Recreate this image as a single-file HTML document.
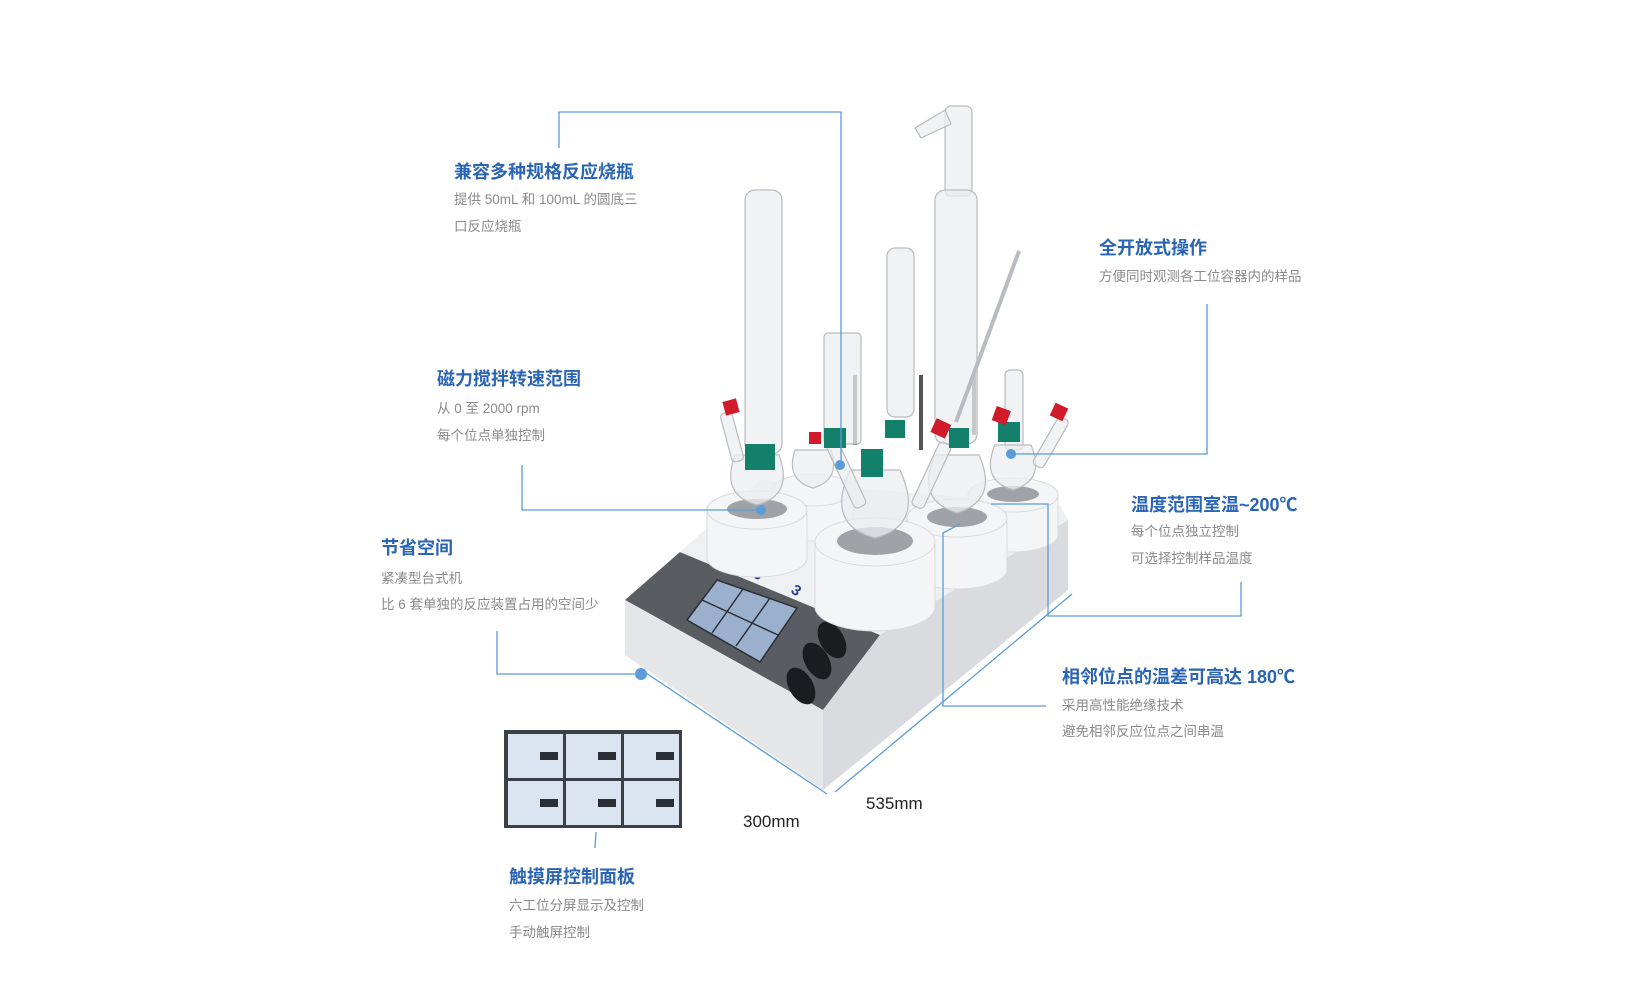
<!DOCTYPE html>
<html><head><meta charset="utf-8"><style>
html,body{margin:0;padding:0;background:#fff;width:1648px;height:998px;overflow:hidden}
svg{display:block}
.t{font-family:"Liberation Sans","Noto Sans CJK SC",sans-serif;font-weight:bold;font-size:18px;fill:#2a64b4}
.b{font-family:"Liberation Sans","Noto Sans CJK SC",sans-serif;font-size:13.5px;fill:#8a8a8a}
.d{font-family:"Liberation Sans","Noto Sans CJK SC",sans-serif;font-size:17px;fill:#222}
.ln{fill:none;stroke:#5b9bd9;stroke-width:1.3}
.g{fill:rgba(235,238,240,0.75);stroke:#b8bcc0;stroke-width:1.2}
</style></head><body>
<svg width="1648" height="998" viewBox="0 0 1648 998" xmlns="http://www.w3.org/2000/svg">
<polygon points="625,600 680,552 880,635 823,710" fill="#595c61"/>
<polygon points="625,600 625,655 823,790 823,710" fill="#e4e6e8"/>
<polygon points="823,710 880,635 1068,520 1068,590 823,790" fill="#d9dbde"/>
<polygon points="680,552 880,635 1068,520 1060,505 760,480" fill="#eef0f2"/>
<!-- screen -->
<polygon points="687,620 717,580 797,608 760,662" fill="#9bb0cc" stroke="#2b3036" stroke-width="1.5"/>
<g stroke="#2b3036" stroke-width="1.5">
<line x1="702" y1="600" x2="778" y2="635"/>
<line x1="712" y1="633" x2="743" y2="589"/><line x1="736" y1="646" x2="770" y2="598"/>
</g>
<g fill="#1a1c1f">
<ellipse cx="832" cy="640" rx="12" ry="20" transform="rotate(-30 832 640)"/>
<ellipse cx="817" cy="661" rx="12" ry="20" transform="rotate(-30 817 661)"/>
<ellipse cx="801" cy="686" rx="12" ry="20" transform="rotate(-30 801 686)"/>
</g>
<text x="752" y="576" font-family="Liberation Sans" font-weight="bold" font-size="15" fill="#2a3f8a" transform="rotate(35 752 576)">6</text>
<text x="790" y="592" font-family="Liberation Sans" font-weight="bold" font-size="15" fill="#2a3f8a" transform="rotate(35 790 592)">3</text>
<g fill="#f4f5f6" stroke="#d8dadc">
<path d="M773,490 v35 a40,16 0 0 0 80,0 v-35 z"/><ellipse cx="813" cy="490" rx="40" ry="16"/>
<path d="M968,495 v40 a45,17 0 0 0 90,0 v-40 z"/><ellipse cx="1013" cy="495" rx="45" ry="17"/>
<path d="M907,518 v52 a50,19 0 0 0 100,0 v-52 z"/><ellipse cx="957" cy="518" rx="50" ry="19"/>
<path d="M707,510 v48 a50,19 0 0 0 100,0 v-48 z"/><ellipse cx="757" cy="510" rx="50" ry="19"/>
<path d="M815,542 v65 a60,24 0 0 0 120,0 v-65 z"/><ellipse cx="875" cy="542" rx="60" ry="24"/>
</g>
<g fill="#9fa3a7"><ellipse cx="757" cy="509" rx="30" ry="10"/><ellipse cx="875" cy="541" rx="38" ry="14"/><ellipse cx="957" cy="517" rx="30" ry="10"/><ellipse cx="1013" cy="494" rx="26" ry="8"/></g>
<rect x="919" y="375" width="4" height="75" fill="#555"/><rect x="972" y="375" width="4" height="60" fill="#555"/><rect x="853" y="375" width="4" height="70" fill="#555"/>
<rect class="g" x="745" y="190" width="37" height="264" rx="10"/>
<rect class="g" x="945" y="106" width="27" height="90" rx="6"/>
<path class="g" d="M945,110 l-30,18 l6,10 l30,-14 z"/>
<rect class="g" x="935" y="190" width="42" height="254" rx="10"/>
<rect class="g" x="887" y="248" width="27" height="169" rx="8"/>
<rect class="g" x="824" y="333" width="37" height="111" rx="4"/>
<line x1="1019" y1="251" x2="956" y2="422" stroke="#b8bcc0" stroke-width="4"/>
<rect class="g" x="1005" y="370" width="18" height="80" rx="5"/>
<g class="g">
<path d="M735,455 q-15,40 22,50 q37,-10 22,-50 z"/>
<path d="M850,470 q-25,55 25,68 q50,-13 25,-68 z"/>
<path d="M935,455 q-20,45 22,58 q42,-13 22,-58 z"/>
<path d="M995,445 q-15,35 18,45 q33,-10 18,-45 z"/>
<path d="M795,450 q-10,30 18,38 q28,-8 18,-38 z"/>
</g>
<g class="g"><rect x="726" y="412" width="12" height="50" rx="4" transform="rotate(-15 732 437)"/><rect x="840" y="440" width="13" height="70" rx="4" transform="rotate(-25 846 475)"/><rect x="925" y="440" width="13" height="70" rx="4" transform="rotate(25 931 475)"/><rect x="1045" y="415" width="12" height="55" rx="4" transform="rotate(30 1051 442)"/></g>
<g fill="#12806a">
<rect x="745" y="444" width="30" height="26"/><rect x="861" y="449" width="22" height="28"/><rect x="824" y="428" width="22" height="20"/><rect x="885" y="420" width="20" height="18"/><rect x="998" y="422" width="22" height="20"/><rect x="949" y="428" width="20" height="20"/>
</g>
<g fill="#d11a2a">
<rect x="724" y="400" width="14" height="14" transform="rotate(-15 731 407)"/><rect x="933" y="421" width="16" height="15" transform="rotate(25 941 428)"/><rect x="994" y="408" width="15" height="15" transform="rotate(20 1001 415)"/><rect x="1052" y="405" width="14" height="14" transform="rotate(25 1059 412)"/><rect x="809" y="432" width="12" height="12"/>
</g>
<rect x="504" y="730" width="178" height="98" fill="#3a4046"/>
<g fill="#dbe5f1">
<rect x="508" y="734" width="55" height="44"/><rect x="566" y="734" width="55" height="44"/><rect x="624" y="734" width="55" height="44"/>
<rect x="508" y="781" width="55" height="44"/><rect x="566" y="781" width="55" height="44"/><rect x="624" y="781" width="55" height="44"/>
</g>
<g fill="#2b2f35"><rect x="540" y="752" width="18" height="8"/><rect x="598" y="752" width="18" height="8"/><rect x="656" y="752" width="18" height="8"/><rect x="540" y="799" width="18" height="8"/><rect x="598" y="799" width="18" height="8"/><rect x="656" y="799" width="18" height="8"/></g>
<line class="ln" x1="596" y1="832" x2="595" y2="848"/>
<polyline class="ln" points="559,148 559,112 841,112 841,465"/>
<circle cx="840" cy="465" r="5" fill="#5b9bd9"/>
<polyline class="ln" points="522,465 522,510 761,510"/>
<circle cx="761" cy="510" r="5" fill="#5b9bd9"/>
<polyline class="ln" points="497,631 497,674 641,674"/>
<circle cx="641" cy="674" r="6" fill="#5b9bd9"/>
<polyline class="ln" points="1207,304 1207,454 1011,454"/>
<circle cx="1011" cy="454" r="5" fill="#5b9bd9"/>
<polyline class="ln" points="1241,582 1241,616 1048,616 1048,504 991,504"/>
<polyline class="ln" points="1046,706 943,706 943,533 960,524"/>
<line class="ln" x1="640" y1="669" x2="827" y2="794"/>
<line class="ln" x1="835" y1="792" x2="1072" y2="594"/>
<text class="t" x="454" y="178">兼容多种规格反应烧瓶</text>
<text class="b" x="454" y="204">提供 50mL 和 100mL 的圆底三</text>
<text class="b" x="454" y="231">口反应烧瓶</text>
<text class="t" x="437" y="385">磁力搅拌转速范围</text>
<text class="b" x="437" y="413">从 0 至 2000 rpm</text>
<text class="b" x="437" y="440">每个位点单独控制</text>
<text class="t" x="381" y="554">节省空间</text>
<text class="b" x="381" y="583">紧凑型台式机</text>
<text class="b" x="381" y="609">比 6 套单独的反应装置占用的空间少</text>
<text class="t" x="1099" y="254">全开放式操作</text>
<text class="b" x="1099" y="281">方便同时观测各工位容器内的样品</text>
<text class="t" x="1131" y="511">温度范围室温~200℃</text>
<text class="b" x="1131" y="536">每个位点独立控制</text>
<text class="b" x="1131" y="563">可选择控制样品温度</text>
<text class="t" x="1062" y="683">相邻位点的温差可高达 180℃</text>
<text class="b" x="1062" y="710">采用高性能绝缘技术</text>
<text class="b" x="1062" y="736">避免相邻反应位点之间串温</text>
<text class="t" x="509" y="883">触摸屏控制面板</text>
<text class="b" x="509" y="910">六工位分屏显示及控制</text>
<text class="b" x="509" y="937">手动触屏控制</text>
<text class="d" x="743" y="827">300mm</text>
<text class="d" x="866" y="809">535mm</text>
</svg>
</body></html>
